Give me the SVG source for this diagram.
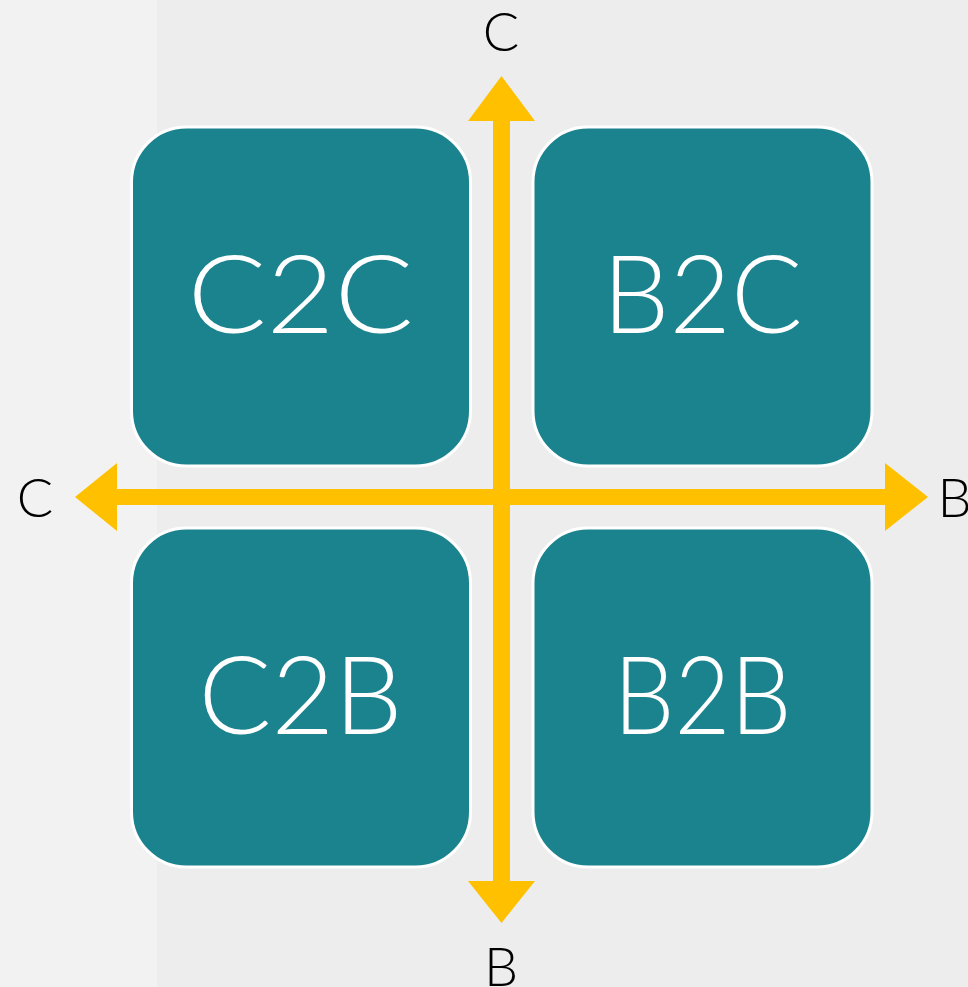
<svg xmlns="http://www.w3.org/2000/svg" width="968" height="987" viewBox="0 0 968 987">
<style>
.box{fill:#1b838e;stroke:#ffffff;stroke-width:3}
.big{font-family:Lato,"Liberation Sans",sans-serif;font-weight:300;font-size:108px;fill:#ffffff;text-anchor:middle}
.lbl{font-family:Lato,"Liberation Sans",sans-serif;font-weight:300;font-size:54px;fill:#000000;text-anchor:middle}
.arr{fill:#ffc000}
</style>
<rect x="0" y="0" width="968" height="987" fill="#ededed"/>
<rect x="0" y="0" width="157" height="987" fill="#f2f2f2"/>
<g id="c2c"><rect class="box" x="131.5" y="127" width="339" height="339" rx="55"/><text class="big" x="300.5" y="333" textLength="226" lengthAdjust="spacingAndGlyphs">C2C</text></g>
<g id="b2c"><rect class="box" x="533" y="127" width="339" height="339" rx="55"/><text class="big" x="702.5" y="333" textLength="200" lengthAdjust="spacingAndGlyphs">B2C</text></g>
<g id="c2b"><rect class="box" x="131.5" y="528" width="339" height="339" rx="55"/><text class="big" x="300.5" y="734" textLength="204" lengthAdjust="spacingAndGlyphs">C2B</text></g>
<g id="b2b"><rect class="box" x="533" y="528" width="339" height="339" rx="55"/><text class="big" x="702.5" y="734" textLength="178" lengthAdjust="spacingAndGlyphs">B2B</text></g>
<g id="connectors">
<polygon class="arr" points="75,497 117,463 117,489 885,489 885,463 928,497 885,531 885,505 117,505 117,531"/>
<polygon class="arr" points="501.5,76 535,121 510,121 510,881 535,881 501.5,923 468,881 493,881 493,121 468,121"/>
</g>
<g id="labels">
<text class="lbl" x="501" y="51">C</text>
<text class="lbl" x="35" y="517">C</text>
<text class="lbl" x="954.5" y="517">B</text>
<text class="lbl" x="501" y="986">B</text>
</g>
</svg>
